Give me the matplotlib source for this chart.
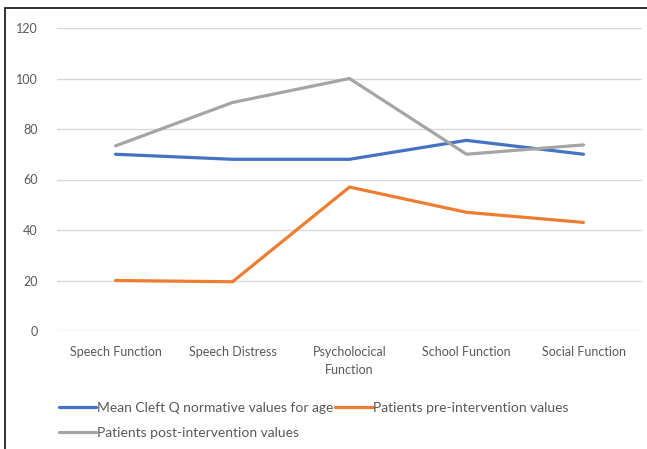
import matplotlib
matplotlib.use("Agg")
import matplotlib.pyplot as plt
from matplotlib.patches import Rectangle

# Cleft Q scores per domain
categories = ["Speech Function", "Speech Distress", "Psycholocical\nFunction",
              "School Function", "Social Function"]
normative = [70, 68, 68, 75.5, 70]
pre_values = [20, 19.5, 57, 47, 43]
post_values = [73.3, 90.5, 100, 70, 73.7]

series_labels = ["Mean Cleft Q normative values for age",
                 "Patients pre-intervention values",
                 "Patients post-intervention values"]
y_ticks = [0, 20, 40, 60, 80, 100, 120]

plt.rcParams['font.family'] = ['Lato', 'DejaVu Sans']
txt_col = "#595959"

fig = plt.figure(figsize=(6.47, 4.49), dpi=100)
ax = fig.add_axes([57/647, 1 - 331/449, 585/647, 303/449])

x = list(range(len(categories)))
l1, = ax.plot(x, normative, color="#4472C4", lw=2.3, solid_capstyle="round")
l2, = ax.plot(x, pre_values, color="#ED7D31", lw=2.3, solid_capstyle="round")
l3, = ax.plot(x, post_values, color="#A5A5A5", lw=2.3, solid_capstyle="round")

ax.set_xlim(-0.5, len(categories) - 0.5)
ax.set_ylim(0, 120)
ax.set_yticks(y_ticks)
ax.set_xticks(x)
ax.set_xticklabels(categories, linespacing=1.6)
ax.grid(axis="y", color="#d9d9d9", lw=1)
ax.set_axisbelow(True)
for s in ax.spines.values():
    s.set_visible(False)
ax.tick_params(axis="both", length=0, labelsize=9, colors=txt_col)
ax.tick_params(axis="y", pad=14)
ax.tick_params(axis="x", pad=11)

# legend: col 1 blue + gray, col 2 orange
leg = fig.legend([l1, l3, l2], [series_labels[0], series_labels[2], series_labels[1]],
                 ncol=2, loc="upper left", bbox_to_anchor=(53/647, 1 - 396/449),
                 frameon=False, fontsize=10, handlelength=2.7, handletextpad=0.05,
                 columnspacing=0.15, labelspacing=0.95, borderaxespad=0)
for t in leg.get_texts():
    t.set_color(txt_col)

# outer frame (left + top only visible)
fig.patches.append(Rectangle((5/647, -0.1), 1.2, 1 - 8/449 + 0.1,
                             transform=fig.transFigure, fill=False,
                             ec="#222222", lw=1.3))

fig.savefig("out.png", dpi=100)
